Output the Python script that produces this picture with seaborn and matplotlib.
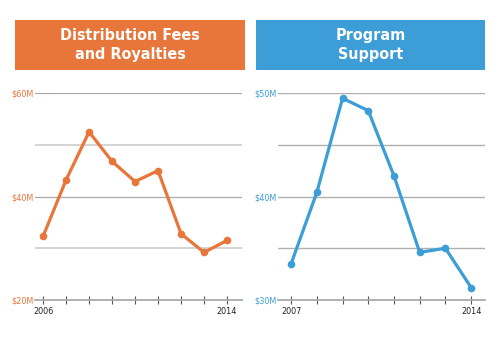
import matplotlib
matplotlib.use("Agg")
import matplotlib.pyplot as plt
import seaborn as sns
import pandas as pd
from matplotlib.patches import Rectangle

sns.set_style("white")
plt.rcParams['font.family'] = ['DejaVu Sans']
plt.rcParams['font.stretch'] = 'condensed'

years_fees = [2006, 2007, 2008, 2009, 2010, 2011, 2012, 2013, 2014]
fees = [32.3, 43.2, 52.5, 46.8, 42.9, 45.0, 32.8, 29.2, 31.5]
years_support = [2007, 2008, 2009, 2010, 2011, 2012, 2013, 2014]
support = [33.5, 40.4, 49.5, 48.3, 42.0, 34.6, 35.0, 31.2]

fee_ticks = [20, 30, 40, 50, 60]
fee_labels = ["$20M", "", "$40M", "", "$60M"]
sup_ticks = [30, 35, 40, 45, 50]
sup_labels = ["$30M", "", "$40M", "", "$50M"]

ORANGE = "#E8763A"
BLUE = "#3D9DD6"

fig = plt.figure(figsize=(5, 3.5), dpi=100)

def panel(rect, xs, ys, color, yticks, ylabels, xlim, title, box, grid_styles):
    ax = fig.add_axes(rect)
    df = pd.DataFrame({"year": xs, "value": ys})
    sns.lineplot(data=df, x="year", y="value", ax=ax, color=color, marker="o",
                 markersize=5.5, markeredgewidth=0, linewidth=2.3, clip_on=False, zorder=5)
    ax.set_ylim(yticks[0], yticks[-1])
    ax.set_xlim(*xlim)
    ax.set_yticks(yticks)
    ax.set_yticklabels(ylabels, color=color, fontsize=6.5, fontstretch='condensed')
    for t, (gc, gw) in zip(yticks[1:], grid_styles):
        ax.axhline(t, color=gc, lw=gw, zorder=1)
    ax.set_xticks(xs)
    ax.set_xticklabels([str(xs[0])] + [""] * (len(xs) - 2) + [str(xs[-1])], fontsize=6.5,
                       color="#222222", fontstretch='condensed')
    ax.tick_params(axis="x", bottom=True, direction="inout", length=6, width=0.8,
                   color="#555555", pad=2)
    ax.tick_params(axis="y", left=False, length=0, pad=1)
    for s in ["top", "right", "left"]:
        ax.spines[s].set_visible(False)
    ax.spines["bottom"].set_color("#aaaaaa")
    ax.spines["bottom"].set_linewidth(1.3)
    ax.set_xlabel("")
    ax.set_ylabel("")
    ax.grid(False)
    x0, y0, w, h = box
    fig.patches.append(Rectangle((x0, y0), w, h, transform=fig.transFigure,
                                 facecolor=color, edgecolor="none"))
    fig.text(x0 + w / 2, y0 + h / 2, title, ha="center", va="center", color="white",
             fontsize=11.5, fontweight="bold", fontstretch='condensed', linespacing=1.4)
    return ax

left_grid = [("#d4d4d4", 1.4), ("#aaaaaa", 0.9), ("#d4d4d4", 1.4), ("#aaaaaa", 0.9)]
right_grid = [("#b0b0b0", 1.0)] * 4

panel([0.07, 0.143, 0.414, 0.591], years_fees, fees, ORANGE, fee_ticks, fee_labels,
      (2005.65, 2014.65), "Distribution Fees\nand Royalties",
      (15 / 500, 1 - 70 / 350, 230 / 500, 50 / 350), left_grid)
panel([0.556, 0.143, 0.414, 0.591], years_support, support, BLUE, sup_ticks, sup_labels,
      (2006.49, 2014.54), "Program\nSupport",
      (256 / 500, 1 - 70 / 350, 229 / 500, 50 / 350), right_grid)

fig.savefig("out.png", dpi=100)
